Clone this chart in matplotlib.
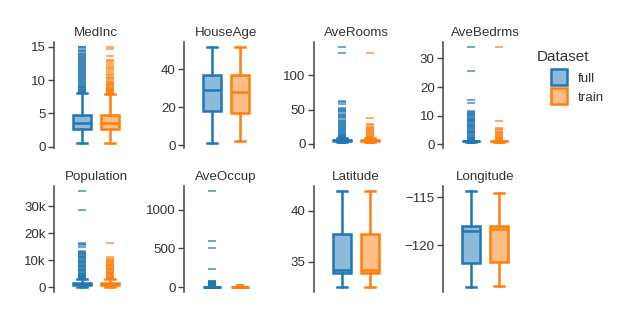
import numpy as np
import matplotlib
matplotlib.use('Agg')
import matplotlib.pyplot as plt
from matplotlib.ticker import FixedLocator, FuncFormatter
from matplotlib.lines import Line2D

plt.rcParams['font.family'] = ['Liberation Sans', 'DejaVu Sans']

features = ['MedInc', 'HouseAge', 'AveRooms', 'AveBedrms',
            'Population', 'AveOccup', 'Latitude', 'Longitude']
datasets = ['full', 'train']

# whislo, q1, median, q3, whishi
full_stats = [
    [0.4999, 2.563, 3.535, 4.743, 8.013],
    [1, 18, 29, 37, 52],
    [2.02, 4.44, 5.23, 6.05, 8.47],
    [0.866, 1.006, 1.049, 1.0996, 1.24],
    [3, 787, 1166, 1725, 3132],
    [1.16, 2.43, 2.82, 3.28, 4.56],
    [32.54, 33.93, 34.26, 37.71, 41.95],
    [-124.35, -121.80, -118.49, -118.01, -114.31],
]
train_stats = [
    [0.4999, 2.56, 3.53, 4.75, 7.95],
    [2, 17, 28, 37, 52],
    [2.02, 4.44, 5.22, 6.06, 8.5],
    [0.866, 1.006, 1.048, 1.10, 1.24],
    [3, 790, 1167, 1726, 3130],
    [1.16, 2.43, 2.82, 3.28, 4.56],
    [32.55, 33.93, 34.25, 37.72, 41.95],
    [-124.2, -121.75, -118.3, -118.0, -114.58],
]

full_fliers = [
    [8.05, 8.15, 8.25, 8.35, 8.45, 8.55, 8.65, 8.75, 8.9, 9.0, 9.15, 9.3,
     9.45, 9.6, 9.75, 9.9, 10.05, 10.2, 10.35, 10.5, 10.65, 10.8, 10.95,
     11.1, 11.25, 11.4, 11.55, 11.7, 11.85, 12.0, 12.15, 12.3, 12.45, 12.6,
     12.75, 12.9, 13.05, 13.2, 13.35, 13.5, 13.65, 13.8, 13.95, 14.1, 14.3,
     14.4, 14.6, 14.9, 15.0],
    [],
    [0.85, 1.1, 1.4, 1.6, 1.8, 1.95, 8.6, 9.5, 10.5, 11.5, 12.5, 13.5, 14.5,
     16, 17.5, 19, 20.5, 22, 23.5, 25, 26.5, 28, 29.5, 31, 32.5, 34, 35.5,
     37, 38.5, 40, 41.5, 44, 46, 47.5, 49, 51.5, 53, 57.5, 61.5, 62.5,
     132.5, 141.9],
    [0.33, 0.45, 0.55, 0.65, 0.75, 0.83, 1.26, 1.4, 1.6, 1.8, 2.0, 2.3, 2.6,
     2.9, 3.2, 3.5, 3.8, 4.1, 4.4, 4.7, 5.0, 5.3, 5.6, 5.9, 6.2, 6.5, 6.8,
     7.1, 7.4, 7.7, 8.0, 8.3, 8.6, 8.9, 9.2, 9.5, 9.8, 10.1, 10.4, 10.7,
     11.0, 11.3, 11.6, 14.5, 15.3, 25.6, 34.07],
    [3200, 3400, 3600, 3800, 4000, 4250, 4500, 4750, 5000, 5300, 5600, 5900,
     6200, 6500, 6800, 7100, 7400, 7700, 8000, 8300, 8600, 8900, 9200, 9500,
     9800, 10100, 10400, 10700, 11000, 11300, 11600, 11900, 12200, 12500,
     12800, 13100, 13400, 15000, 15500, 16100, 16300, 28566, 35682],
    [0.69, 0.75, 0.9, 1.0, 1.1, 4.6, 5, 5.5, 6, 7, 8, 9, 10, 12, 14, 16, 18,
     20, 25, 30, 35, 40, 45, 50, 55, 60, 63, 70, 76, 83, 230, 502, 600, 1243],
    [],
    [],
]
train_fliers = [
    [8.0, 8.1, 8.2, 8.3, 8.4, 8.5, 8.6, 8.7, 8.8, 8.95, 9.1, 9.25, 9.4,
     9.55, 9.7, 9.9, 10.1, 10.3, 10.5, 10.7, 10.9, 11.2, 11.5, 11.8, 12.0,
     12.2, 12.5, 12.8, 13.0, 13.6, 14.7, 15.0],
    [],
    [1.0, 1.3, 1.6, 1.9, 8.6, 9.5, 10.5, 11.5, 12.5, 14, 15.5, 17, 18.5, 20,
     21.5, 23, 25, 27, 29, 37, 132.5],
    [0.4, 0.5, 0.6, 0.7, 0.8, 1.26, 1.4, 1.6, 1.8, 2.0, 2.3, 2.6, 2.9, 3.2,
     3.5, 3.8, 4.1, 4.4, 5.0, 5.3, 5.7, 8.1, 34.07],
    [3200, 3450, 3700, 3950, 4200, 4500, 4800, 5100, 5400, 5700, 6000, 6300,
     6600, 6900, 7200, 7500, 7800, 8100, 8400, 8700, 9000, 9300, 9700, 10000,
     10500, 11300, 16300],
    [0.75, 0.9, 1.1, 4.6, 5, 5.5, 6, 7, 8, 9, 10, 12, 14, 16, 18, 20, 25, 30],
    [],
    [],
]

yticks = [[0, 5, 10, 15], [0, 20, 40], [0, 50, 100], [0, 10, 20, 30],
          [0, 10000, 20000, 30000], [0, 500, 1000], [35, 40], [-120, -115]]

colors = ['#1f77b4', '#ff7f0e']
txtc = '#333333'

fig = plt.figure(figsize=(6.25, 3.13), dpi=100)
W, H = 625.0, 313.0
lefts = [54, 184, 314, 443]
tops = [42, 186]
aw, ah = 84, 106

for i, name in enumerate(features):
    r, c = divmod(i, 4)
    ax = fig.add_axes([lefts[c] / W, 1 - (tops[r] + ah) / H, aw / W, ah / H])
    stats = []
    for st, fl, lab in [(full_stats[i], full_fliers[i], 'full'),
                        (train_stats[i], train_fliers[i], 'train')]:
        stats.append(dict(whislo=st[0], q1=st[1], med=st[2], q3=st[3],
                          whishi=st[4], fliers=np.array(fl), label=lab))
    bp = ax.bxp(stats, positions=[1, 2], widths=0.64, capwidths=0.36,
                patch_artist=True, showfliers=True)
    for k, col in enumerate(colors):
        bp['boxes'][k].set_facecolor(matplotlib.colors.to_rgba(col, 0.5))
        bp['boxes'][k].set_edgecolor(col)
        bp['boxes'][k].set_linewidth(1.8)
        bp['medians'][k].set_color(col)
        bp['medians'][k].set_linewidth(1.8)
        for w in bp['whiskers'][2 * k:2 * k + 2] + bp['caps'][2 * k:2 * k + 2]:
            w.set_color(col)
            w.set_linewidth(1.8)
        f = bp['fliers'][k]
        f.set_marker('_')
        f.set_markersize(6)
        f.set_markeredgewidth(1.3)
        f.set_markeredgecolor(col)
        f.set_alpha(0.7)
    ax.set_xlim(0, 3)
    ax.yaxis.set_major_locator(FixedLocator(yticks[i]))
    if name == 'Population':
        ax.yaxis.set_major_formatter(FuncFormatter(
            lambda v, p: '0' if v == 0 else '%dk' % (v / 1000)))
    for s in ['top', 'right', 'bottom']:
        ax.spines[s].set_visible(False)
    ax.spines['left'].set_color('#444444')
    ax.spines['left'].set_linewidth(1.1)
    ax.set_xticks([])
    ax.tick_params(axis='y', length=4, width=1, color='#444444',
                   labelsize=9.6, labelcolor=txtc, pad=2)
    ax.set_title(name, fontsize=9.6, color=txtc, pad=4)

fig.text(562.7 / W, 1 - 57 / H, 'Dataset', ha='center', va='center',
         fontsize=11, color=txtc)
handles = [Line2D([], [], ls='none', marker='s', markersize=11,
                  markerfacecolor=matplotlib.colors.to_rgba(col, 0.5),
                  markeredgecolor=col, markeredgewidth=1.8)
           for col in colors]
fig.legend(handles, datasets, loc='upper left',
           bbox_to_anchor=(542 / W, 1 - 66 / H), frameon=False,
           fontsize=9.6, handlelength=1.6, handletextpad=0.6,
           labelspacing=0.5, borderpad=0, labelcolor=txtc)

fig.savefig('out.png', dpi=100)
